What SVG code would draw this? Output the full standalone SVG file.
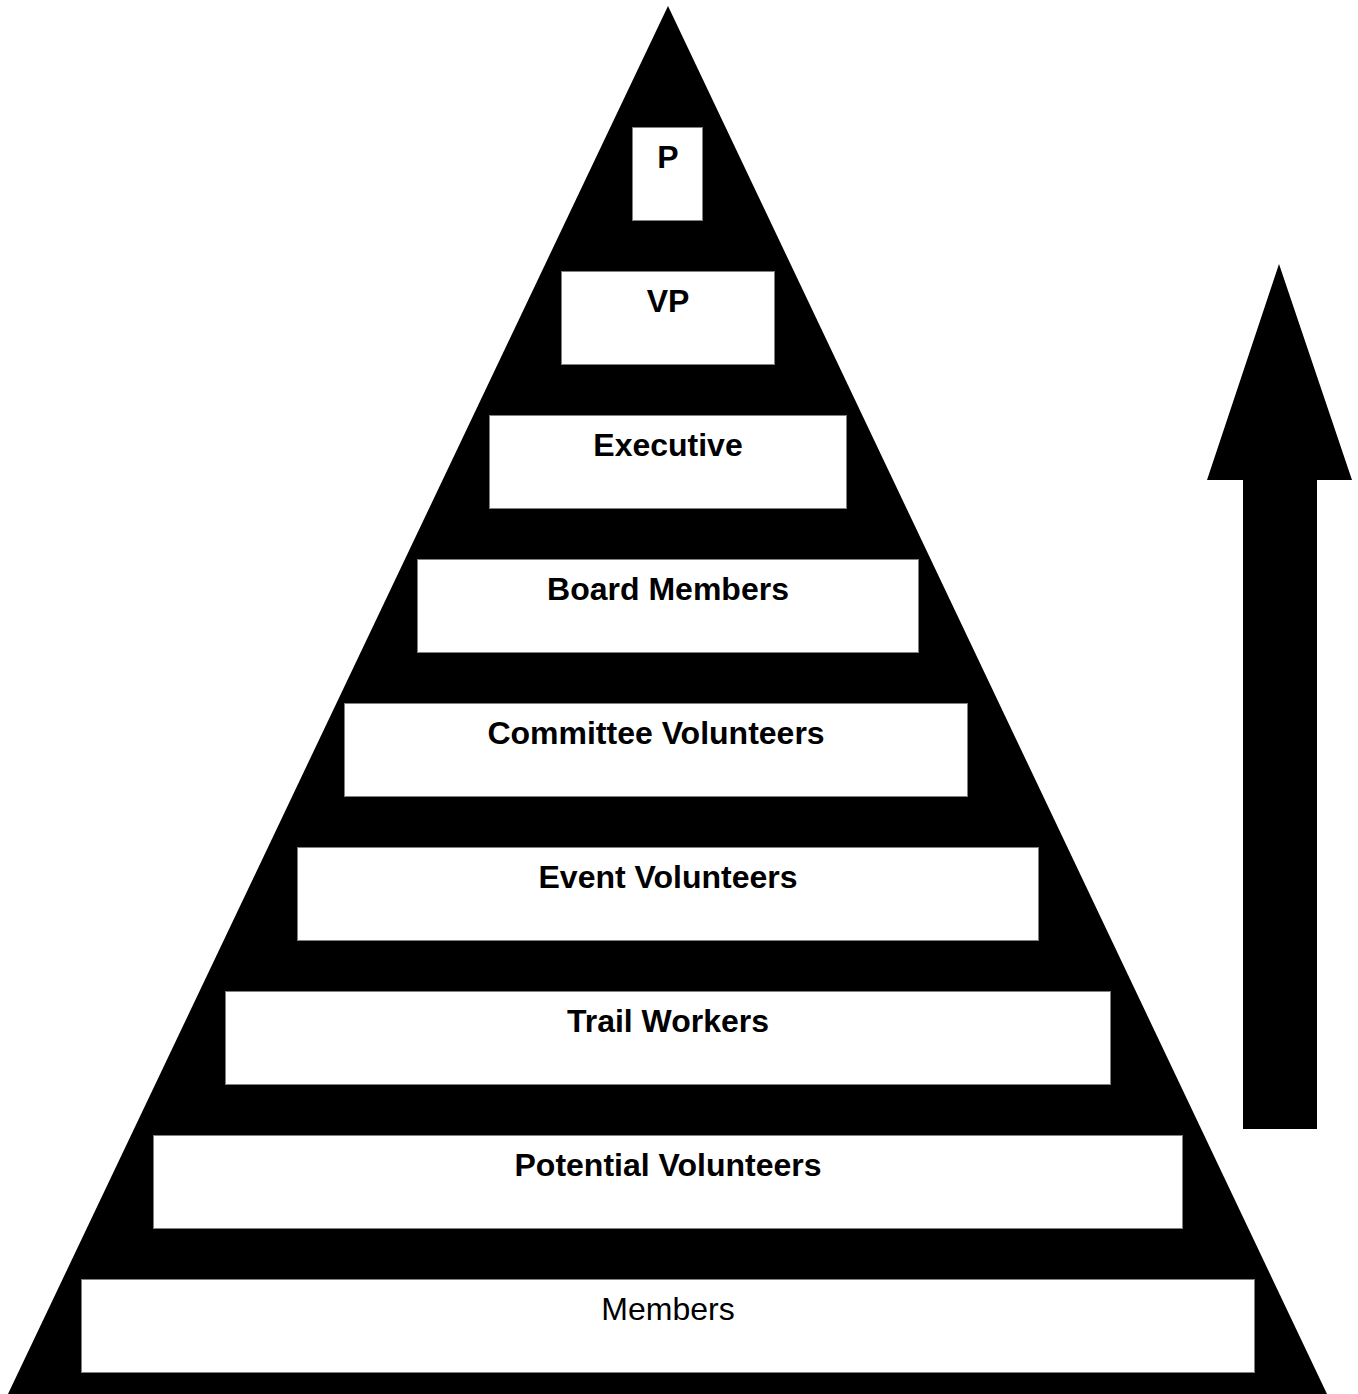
<svg xmlns="http://www.w3.org/2000/svg" width="1358" height="1394" viewBox="0 0 1358 1394">
<style>
.box{fill:#ffffff;stroke:#808080;stroke-width:1}
.lb{font-family:"Liberation Sans",Arial,sans-serif;font-size:32px;font-weight:bold;text-anchor:middle;fill:#000}
.lr{font-family:"Liberation Sans",Arial,sans-serif;font-size:32px;text-anchor:middle;fill:#000}
</style>
<rect x="0" y="0" width="1358" height="1394" fill="#ffffff"/>
<g id="pyramid">
<polygon points="668,6 1327,1394 8,1394" fill="#000000"/>
</g>
<g id="node-p"><rect class="box" x="632.5" y="127.5" width="70" height="93"/><text class="lb" x="668" y="168">P</text></g>
<g id="node-vp"><rect class="box" x="561.5" y="271.5" width="213" height="93"/><text class="lb" x="668" y="312">VP</text></g>
<g id="node-executive"><rect class="box" x="489.5" y="415.5" width="357" height="93"/><text class="lb" x="668" y="456">Executive</text></g>
<g id="node-board"><rect class="box" x="417.5" y="559.5" width="501" height="93"/><text class="lb" x="668" y="600">Board Members</text></g>
<g id="node-committee"><rect class="box" x="344.5" y="703.5" width="623" height="93"/><text class="lb" x="656" y="744">Committee Volunteers</text></g>
<g id="node-event"><rect class="box" x="297.5" y="847.5" width="741" height="93"/><text class="lb" x="668" y="888">Event Volunteers</text></g>
<g id="node-trail"><rect class="box" x="225.5" y="991.5" width="885" height="93"/><text class="lb" x="668" y="1032">Trail Workers</text></g>
<g id="node-potential"><rect class="box" x="153.5" y="1135.5" width="1029" height="93"/><text class="lb" x="668" y="1176">Potential Volunteers</text></g>
<g id="node-members"><rect class="box" x="81.5" y="1279.5" width="1173" height="93"/><text class="lr" x="668" y="1320">Members</text></g>
<g id="connectors">
<polygon points="1279,264 1352,480 1317,480 1317,1129 1243,1129 1243,480 1207,480" fill="#000000"/>
</g>
</svg>
